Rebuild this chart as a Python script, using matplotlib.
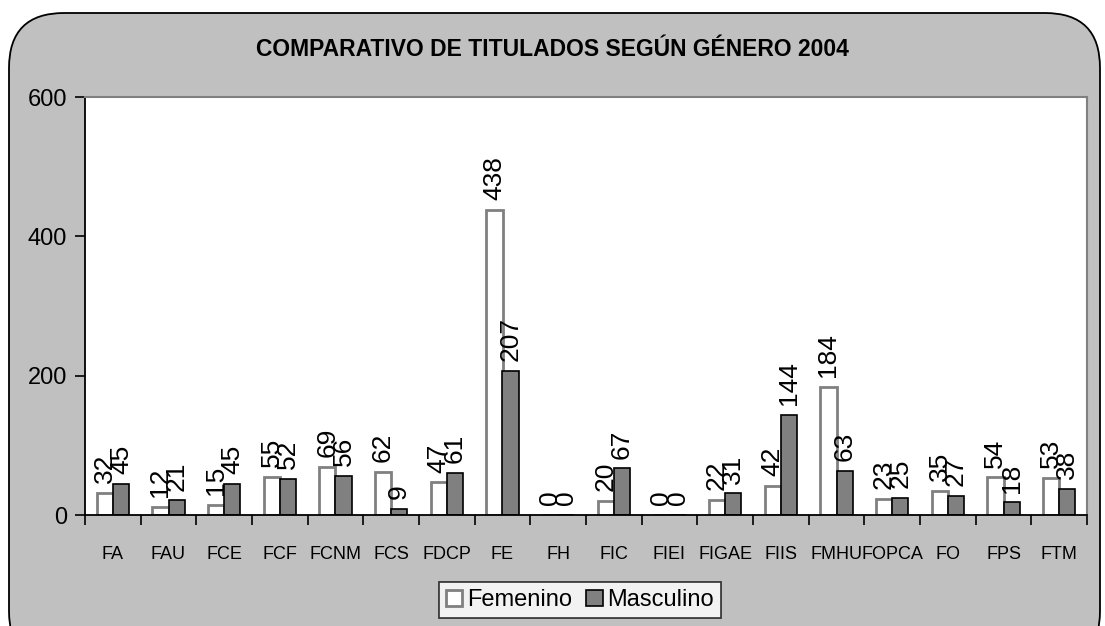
import numpy as np
import matplotlib.pyplot as plt
from matplotlib.patches import FancyBboxPatch

facultades = ['FA', 'FAU', 'FCE', 'FCF', 'FCNM', 'FCS', 'FDCP', 'FE', 'FH', 'FIC',
              'FIEI', 'FIGAE', 'FIIS', 'FMHU', 'FOPCA', 'FO', 'FPS', 'FTM']
femenino = [32, 12, 15, 55, 69, 62, 47, 438, 0, 20, 0, 22, 42, 184, 23, 35, 54, 53]
masculino = [45, 21, 45, 52, 56, 9, 61, 207, 0, 67, 0, 31, 144, 63, 25, 27, 18, 38]
y_ticks = [0, 200, 400, 600]

narrow = ['Liberation Sans Narrow', 'Liberation Sans', 'DejaVu Sans']
plain = ['Liberation Sans', 'DejaVu Sans']

fig = plt.figure(figsize=(11.05, 6.26), dpi=100)
fig.patch.set_facecolor('white')

# rounded grey chart area (pixel coordinates)
bg = FancyBboxPatch((9, -40), 1091, 653, boxstyle='round,pad=0,rounding_size=55',
                    transform=None, facecolor='#C0C0C0', edgecolor='black', linewidth=1.3,
                    zorder=-10)
fig.patches.append(bg)

ax = fig.add_axes([85 / 1105, 1 - 515 / 626, 1002 / 1105, 418 / 626])
ax.set_facecolor('white')

x = np.arange(len(facultades))
w = 0.29
b1 = ax.bar(x - w / 2, femenino, w, color='white', edgecolor='#808080', linewidth=2,
            label='Femenino')
b2 = ax.bar(x + w / 2, masculino, w, color='#808080', edgecolor='black', linewidth=1.2,
            label='Masculino')

for xi, v in zip(x, femenino):
    ax.text(xi - w / 2, v + 14, str(v), rotation=90, ha='center', va='bottom',
            fontsize=19, family=plain)
for xi, v in zip(x, masculino):
    ax.text(xi + w / 2, v + 14, str(v), rotation=90, ha='center', va='bottom',
            fontsize=19, family=plain)

ax.set_xlim(-0.5, len(facultades) - 0.5)
ax.set_ylim(0, 600)
ax.set_yticks(y_ticks)
ax.set_yticklabels([str(t) for t in y_ticks], family=narrow, fontsize=17)
ax.set_xticks(x)
ax.set_xticklabels(facultades, family=narrow, fontsize=13)
ax.set_xticks(np.arange(-0.5, len(facultades)), minor=True)
ax.tick_params(axis='x', which='major', length=0, pad=22)
ax.tick_params(axis='x', which='minor', length=7, width=1.2, direction='out')
ax.tick_params(axis='y', length=7, width=1.2, pad=6)

for s in ['left', 'bottom']:
    ax.spines[s].set_color('black')
    ax.spines[s].set_linewidth(1.3)
for s in ['top', 'right']:
    ax.spines[s].set_color('#808080')
    ax.spines[s].set_linewidth(1.5)

fig.text(552 / 1105, 1 - 50 / 626, 'COMPARATIVO DE TITULADOS SEGÚN GÉNERO 2004',
         ha='center', va='center', fontsize=16.5, fontweight='bold', family=narrow)

leg = fig.legend(handles=[b1, b2], loc='upper center', bbox_to_anchor=(580 / 1105, 1 - 582 / 626),
                 ncol=2, frameon=True, fancybox=False, prop={'family': narrow, 'size': 17},
                 handlelength=0.7, handleheight=0.7, handletextpad=0.2, columnspacing=0.6,
                 borderpad=0.3, borderaxespad=0)
leg.get_frame().set_edgecolor('black')
leg.get_frame().set_linewidth(1.2)
leg.get_frame().set_facecolor('white')

fig.savefig('out.png', dpi=100)
